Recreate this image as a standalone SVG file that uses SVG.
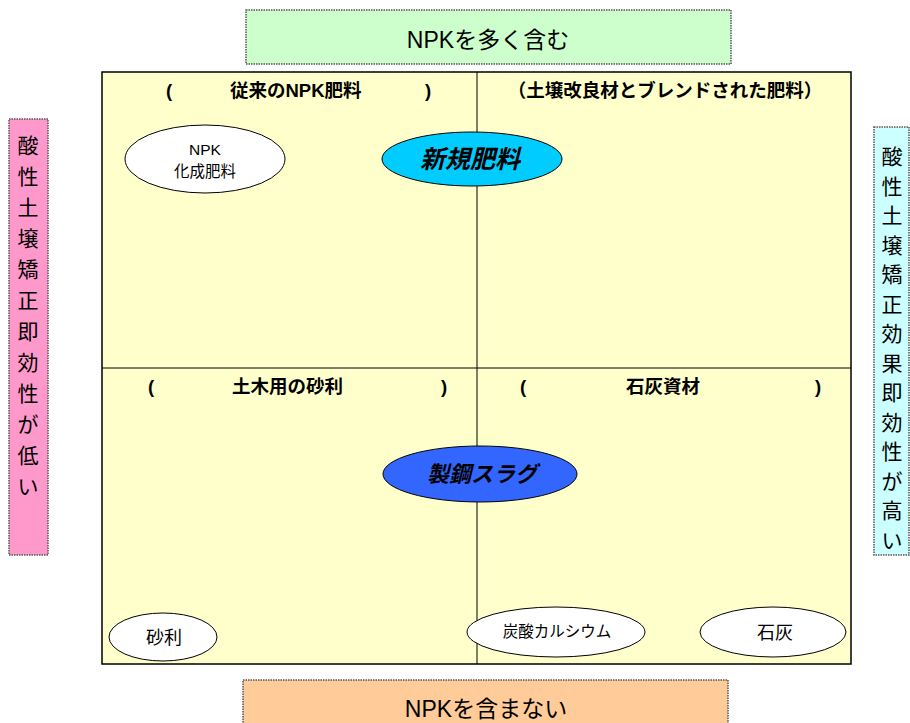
<svg xmlns="http://www.w3.org/2000/svg" width="910" height="723" viewBox="0 0 910 723">
<style>
text{font-family:"Liberation Sans","Noto Sans CJK JP",sans-serif;fill:#000}
.lbl{stroke:#555;stroke-width:1.5;stroke-dasharray:1.5 1}
.q{font-size:18.5px;font-weight:bold}
.el{stroke:#000;stroke-width:1}
.big{font-size:23px}
.vt{font-size:21px}
.sm{font-size:15.5px}
.md{font-size:18px}
.it{font-weight:bold;font-style:italic}
</style>
<rect width="910" height="723" fill="#fff"/>
<g id="quadrants">
<rect x="102" y="72" width="749" height="592" fill="#ffffcc" stroke="#000" stroke-width="1.5"/>
</g>
<g id="connectors" stroke="#000" stroke-width="1">
<line x1="477" y1="72" x2="477" y2="664"/>
<line x1="102" y1="368" x2="851" y2="368"/>
</g>
<g id="top"><rect class="lbl" x="246" y="10" width="485" height="54" fill="#ccffcc"/><text class="big" x="488" y="48" text-anchor="middle">NPKを多く含む</text></g>
<g id="bottom"><rect class="lbl" x="243" y="680" width="485" height="50" fill="#ffcc99"/><text class="big" x="486" y="717" text-anchor="middle">NPKを含まない</text></g>
<g id="left"><rect class="lbl" x="9" y="119" width="39" height="436" fill="#ff99cc"/>
<text class="vt" x="28" text-anchor="middle"><tspan x="28" y="153">酸</tspan><tspan x="28" y="184">性</tspan><tspan x="28" y="215">土</tspan><tspan x="28" y="246">壌</tspan><tspan x="28" y="277">矯</tspan><tspan x="28" y="308">正</tspan><tspan x="28" y="339">即</tspan><tspan x="28" y="370">効</tspan><tspan x="28" y="401">性</tspan><tspan x="28" y="432">が</tspan><tspan x="28" y="463">低</tspan><tspan x="28" y="494">い</tspan></text></g>
<g id="right"><rect class="lbl" x="874" y="127" width="35" height="428" fill="#ccffff"/>
<text class="vt" x="892" text-anchor="middle"><tspan x="892" y="164">酸</tspan><tspan x="892" y="194">性</tspan><tspan x="892" y="223">土</tspan><tspan x="892" y="253">壌</tspan><tspan x="892" y="282">矯</tspan><tspan x="892" y="312">正</tspan><tspan x="892" y="341">効</tspan><tspan x="892" y="371">果</tspan><tspan x="892" y="400">即</tspan><tspan x="892" y="430">効</tspan><tspan x="892" y="459">性</tspan><tspan x="892" y="489">が</tspan><tspan x="892" y="518">高</tspan><tspan x="892" y="548">い</tspan></text></g>
<g id="q1"><text class="q" x="166" y="97">(</text><text class="q" x="230" y="97">従来のNPK肥料</text><text class="q" x="425" y="97">)</text></g>
<g id="q2"><text class="q" x="665" y="97" text-anchor="middle">（土壌改良材とブレンドされた肥料）</text></g>
<g id="q3"><text class="q" x="148" y="393">(</text><text class="q" x="232" y="393">土木用の砂利</text><text class="q" x="441" y="393">)</text></g>
<g id="q4"><text class="q" x="520" y="393">(</text><text class="q" x="626" y="393">石灰資材</text><text class="q" x="815" y="393">)</text></g>
<g id="npk"><ellipse class="el" cx="205" cy="159" rx="80" ry="34" fill="#fff"/><text class="sm" x="205" y="155" text-anchor="middle">NPK</text><text class="sm" x="205" y="177" text-anchor="middle">化成肥料</text></g>
<g id="shinki"><ellipse class="el" cx="472" cy="159" rx="90" ry="27" fill="#00ccff"/><text class="it" font-size="25" x="470" y="168" text-anchor="middle">新規肥料</text></g>
<g id="slag"><ellipse class="el" cx="480" cy="474" rx="97" ry="28" fill="#3366ff"/><text class="it" font-size="22" x="482" y="482" text-anchor="middle">製鋼スラグ</text></g>
<g id="jari"><ellipse class="el" cx="163" cy="637" rx="54" ry="24" fill="#fff"/><text class="md" x="164" y="644" text-anchor="middle">砂利</text></g>
<g id="tansan"><ellipse class="el" cx="556" cy="632" rx="89" ry="25" fill="#fff"/><text class="sm" x="557" y="637" text-anchor="middle">炭酸カルシウム</text></g>
<g id="sekkai"><ellipse class="el" cx="773" cy="632" rx="73" ry="25" fill="#fff"/><text class="md" x="775" y="639" text-anchor="middle">石灰</text></g>
</svg>
